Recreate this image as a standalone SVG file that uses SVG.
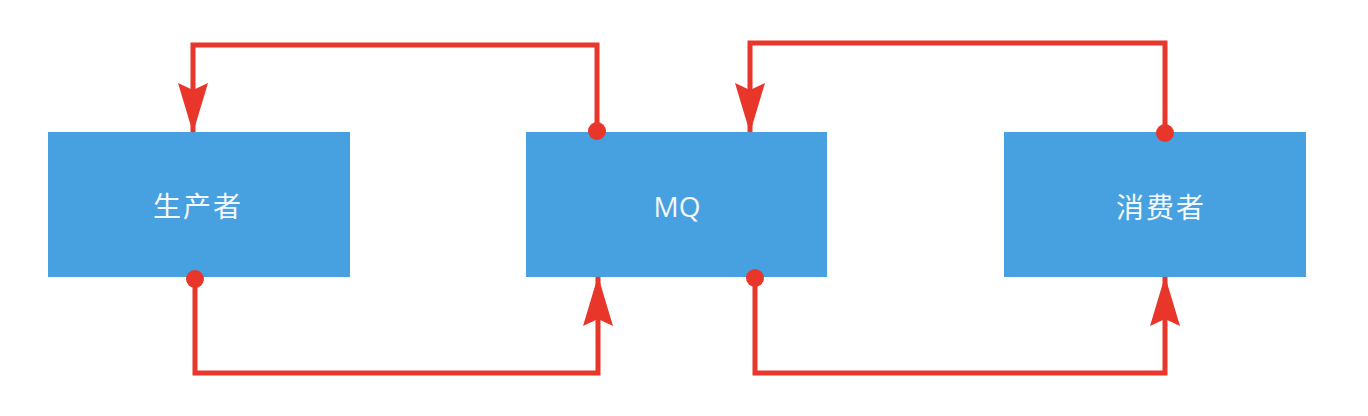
<svg xmlns="http://www.w3.org/2000/svg" width="1368" height="416" viewBox="0 0 1368 416">
  <style>
    .box { fill: #47a0e0; }
    .label { fill: #f4f9ff; font-family: "Open Sans", "Noto Sans CJK SC", sans-serif; font-size: 28px; text-anchor: middle; }
    .cjk { font-family: "Noto Sans CJK SC", sans-serif; letter-spacing: 2px; }
    .conn { fill: none; stroke: #e8362b; stroke-width: 5; stroke-linejoin: miter; }
    .dot { fill: #e8362b; }
  </style>
  <defs>
    <marker id="arrow" viewBox="0 0 50 30" refX="49" refY="15" markerWidth="50" markerHeight="30" markerUnits="userSpaceOnUse" orient="auto">
      <path d="M0,0 L50,15 L0,30 L7,15 Z" fill="#e8362b"/>
    </marker>
  </defs>
  <rect width="1368" height="416" fill="#ffffff"/>
  <g id="producer">
    <rect class="box" x="48" y="132" width="302" height="145"/>
    <text class="label cjk" x="198" y="217">生产者</text>
  </g>
  <g id="mq">
    <rect class="box" x="526" y="132" width="301" height="145"/>
    <text class="label" x="677" y="217">MQ</text>
  </g>
  <g id="consumer">
    <rect class="box" x="1004" y="132" width="302" height="145"/>
    <text class="label cjk" x="1161" y="218">消费者</text>
  </g>
  <g id="connectors">
    <path class="conn" d="M597,131 V45 H193 V132" marker-end="url(#arrow)"/>
    <circle class="dot" cx="597" cy="131" r="9"/>
    <path class="conn" d="M195,279 V373 H598 V277" marker-end="url(#arrow)"/>
    <circle class="dot" cx="195" cy="279" r="9"/>
    <path class="conn" d="M1165,133 V43 H750 V132" marker-end="url(#arrow)"/>
    <circle class="dot" cx="1165" cy="133" r="9"/>
    <path class="conn" d="M755,278 V373 H1165 V277" marker-end="url(#arrow)"/>
    <circle class="dot" cx="755" cy="278" r="9"/>
  </g>
</svg>
